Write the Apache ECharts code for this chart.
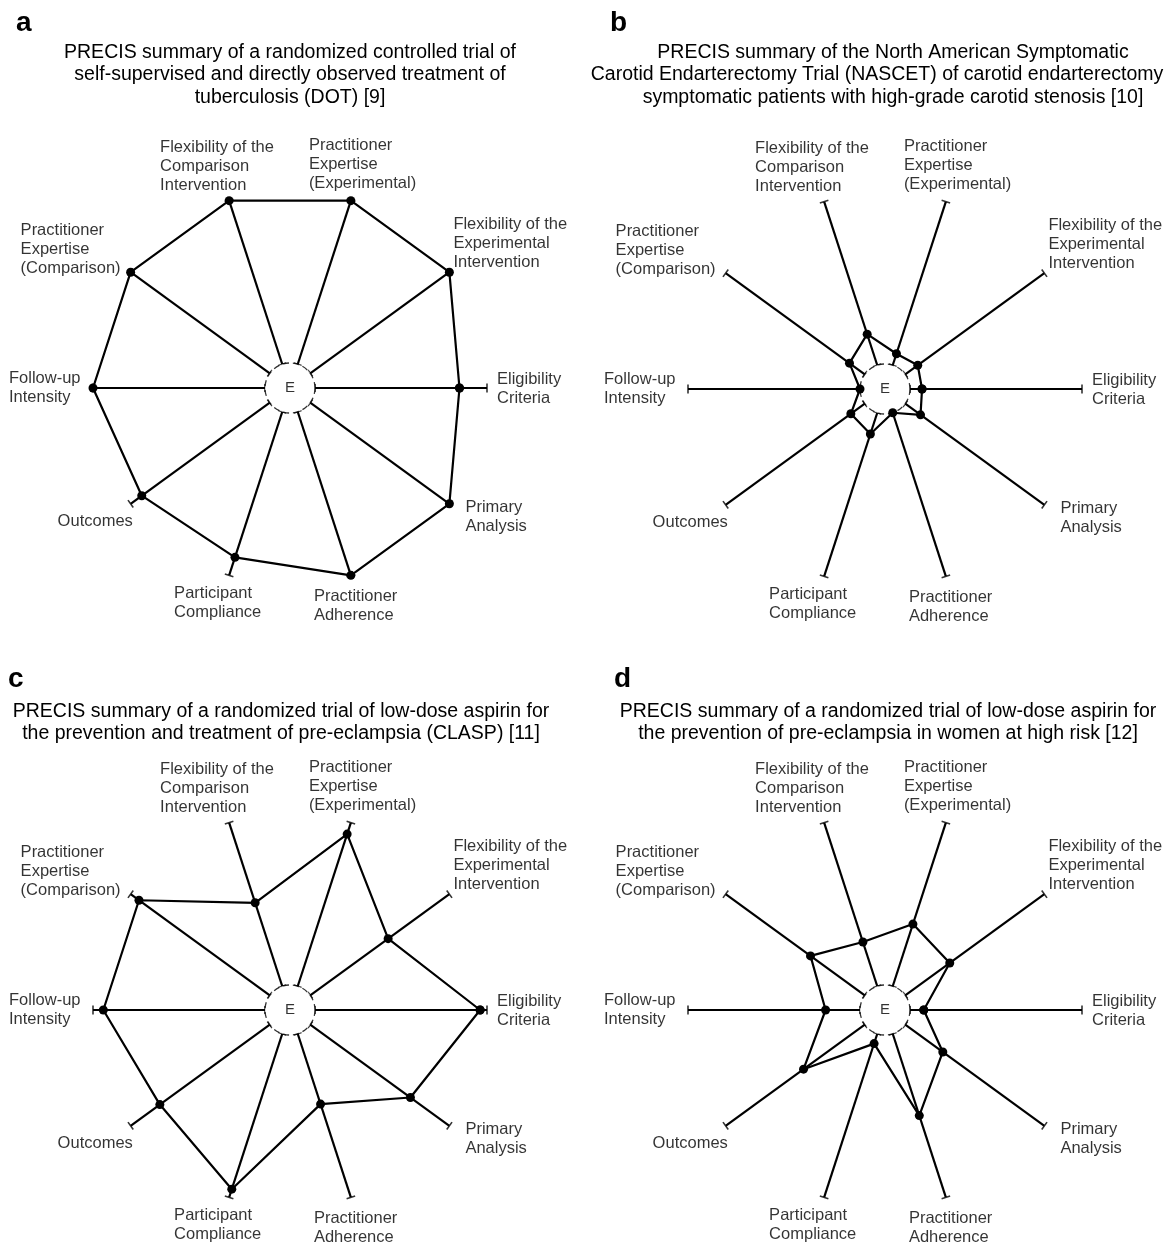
<!DOCTYPE html>
<html><head><meta charset="utf-8">
<script src="https://cdn.jsdelivr.net/npm/echarts@6/dist/echarts.min.js"></script>
<style>html,body{margin:0;padding:0;background:#fff}#c{width:1170px;height:1248px}</style>
</head><body><div id="c"></div>
<script>
// ---- data ----
const categories = [
  'Eligibility\nCriteria',
  'Flexibility of the\nExperimental\nIntervention',
  'Practitioner\nExpertise\n(Experimental)',
  'Flexibility of the\nComparison\nIntervention',
  'Practitioner\nExpertise\n(Comparison)',
  'Follow-up\nIntensity',
  'Outcomes',
  'Participant\nCompliance',
  'Practitioner\nAdherence',
  'Primary\nAnalysis'
];
const valuesA = [0.84, 1.00, 1.00, 1.00, 1.00, 1.00, 0.92, 0.89, 1.00, 1.00];
const valuesB = [0.07, 0.09, 0.07, 0.19, 0.11, 0.00, 0.10, 0.13, 0.00, 0.11];
const valuesC = [0.96, 0.56, 0.93, 0.51, 0.94, 0.94, 0.79, 0.95, 0.43, 0.72];
const valuesD = [0.08, 0.32, 0.38, 0.27, 0.39, 0.20, 0.44, 0.06, 0.50, 0.27];
const panelLetters = ['a', 'b', 'c', 'd'];
const panelTitles = [
  'PRECIS summary of a randomized controlled trial of\nself-supervised and directly observed treatment of\ntuberculosis (DOT) [9]',
  'PRECIS summary of the North American Symptomatic\nCarotid Endarterectomy Trial (NASCET) of carotid endarterectomy\nsymptomatic patients with high-grade carotid stenosis [10]',
  'PRECIS summary of a randomized trial of low-dose aspirin for\nthe prevention and treatment of pre-eclampsia (CLASP) [11]',
  'PRECIS summary of a randomized trial of low-dose aspirin for\nthe prevention of pre-eclampsia in women at high risk [12]'
];
const centerLabel = 'E';
const panelValues = [valuesA, valuesB, valuesC, valuesD];

// ---- layout / style ----
const FONT = '"Liberation Sans", Arial, sans-serif';
const R = 197, R0 = 25;
const radiusMin = -R0 / (R - R0);
const centers = [[290, 388], [885, 389], [290, 1010], [885, 1010]];
const letterPos = [[16, 9], [610, 9], [8, 665], [614, 665]];
const titlePos = [[290, 41], [893, 41], [281, 700], [888, 700]];
const titleLineShift = [[0, 0, 0], [0, -16, 0], [0, 0], [0, 0]];
const TITLE_LH = 22.5;
const labelOffsets = [[10, 1], [4, -29], [-42, -36], [-69, -34], [-110, -23],
                      [-84, 0], [-73, 18], [-55, 28], [-37, 31], [16, 13]];
const n = categories.length;
// each category gets its own spoke direction on the angle axis (degrees, counter-clockwise from east)
const angleOf = i => i * 360 / n;

const title = [];
panelLetters.forEach((l, p) => {
  title.push({text: l, left: letterPos[p][0], top: letterPos[p][1], padding: 0,
    textStyle: {fontFamily: FONT, fontSize: 28, fontWeight: 'bold', color: '#000', lineHeight: 28}});
  panelTitles[p].split('\n').forEach((line, k) => {
    title.push({text: line, left: titlePos[p][0] + (titleLineShift[p][k] || 0),
      top: titlePos[p][1] + k * TITLE_LH, textAlign: 'center', padding: 0,
      textStyle: {fontFamily: FONT, fontSize: 19.5, fontWeight: 'normal', color: '#000', lineHeight: TITLE_LH}});
  });
});

const hidden = {axisLine: {show: false}, axisTick: {show: false}, axisLabel: {show: false}, splitLine: {show: false}};
const polar = [], radiusAxis = [], angleAxis = [], series = [];
panelValues.forEach((vals, p) => {
  polar.push({center: centers[p], radius: [0, R]});
  radiusAxis.push(Object.assign({polarIndex: p, type: 'value', min: radiusMin, max: 1}, hidden));
  angleAxis.push(Object.assign({polarIndex: p, type: 'value', min: 0, max: 360,
    startAngle: 0, clockwise: false}, hidden));
  // spokes
  for (let i = 0; i < n; i++) {
    series.push({type: 'line', coordinateSystem: 'polar', polarIndex: p, silent: true, z: 2, clip: false,
      data: [[0, angleOf(i)], [1, angleOf(i)]], symbol: 'none', lineStyle: {color: '#000', width: 2.2}});
  }
  // end caps
  const caps = [];
  for (let i = 0; i < n; i++) {
    caps.push({value: [0, angleOf(i)], symbolRotate: angleOf(i), symbolSize: [1.6, 8]});
    caps.push({value: [1, angleOf(i)], symbolRotate: angleOf(i), symbolSize: [1.6, 9]});
  }
  series.push({type: 'scatter', coordinateSystem: 'polar', polarIndex: p, silent: true, z: 3, clip: false,
    symbol: 'rect', data: caps, itemStyle: {color: '#000'}});
  // center circle
  series.push({type: 'scatter', coordinateSystem: 'polar', polarIndex: p, silent: true, z: 5, clip: false,
    symbol: 'circle', symbolSize: 2 * R0,
    itemStyle: {color: '#fff', borderColor: '#000', borderWidth: 1.3, borderType: [6, 4]},
    label: {show: true, position: 'inside', formatter: centerLabel, fontFamily: FONT, fontSize: 15, color: '#000'},
    data: [[radiusMin, 0]]});
  // profile polygon
  const poly = vals.map((v, i) => [v, angleOf(i)]);
  poly.push([vals[0], 360]);
  series.push({type: 'line', coordinateSystem: 'polar', polarIndex: p, silent: true, z: 7, clip: false,
    data: poly, symbol: 'circle', symbolSize: 9, showAllSymbol: true,
    itemStyle: {color: '#000'}, lineStyle: {color: '#000', width: 2.2}});
  // category labels
  series.push({type: 'scatter', coordinateSystem: 'polar', polarIndex: p, silent: true, z: 4, clip: false,
    symbol: 'circle', symbolSize: 1, itemStyle: {color: 'rgba(0,0,0,0)'},
    data: categories.map((c, i) => ({value: [1, angleOf(i)], label: {show: true, formatter: c,
      position: 'inside', align: 'left', verticalAlign: 'middle', offset: labelOffsets[i],
      fontFamily: FONT, fontSize: 16.5, lineHeight: 19, color: '#000'}}))});
});

const chart = echarts.init(document.getElementById('c'), null, {renderer: 'canvas'});
chart.setOption({backgroundColor: '#fff', animation: false, title, polar, radiusAxis, angleAxis, series});
</script></body></html>
